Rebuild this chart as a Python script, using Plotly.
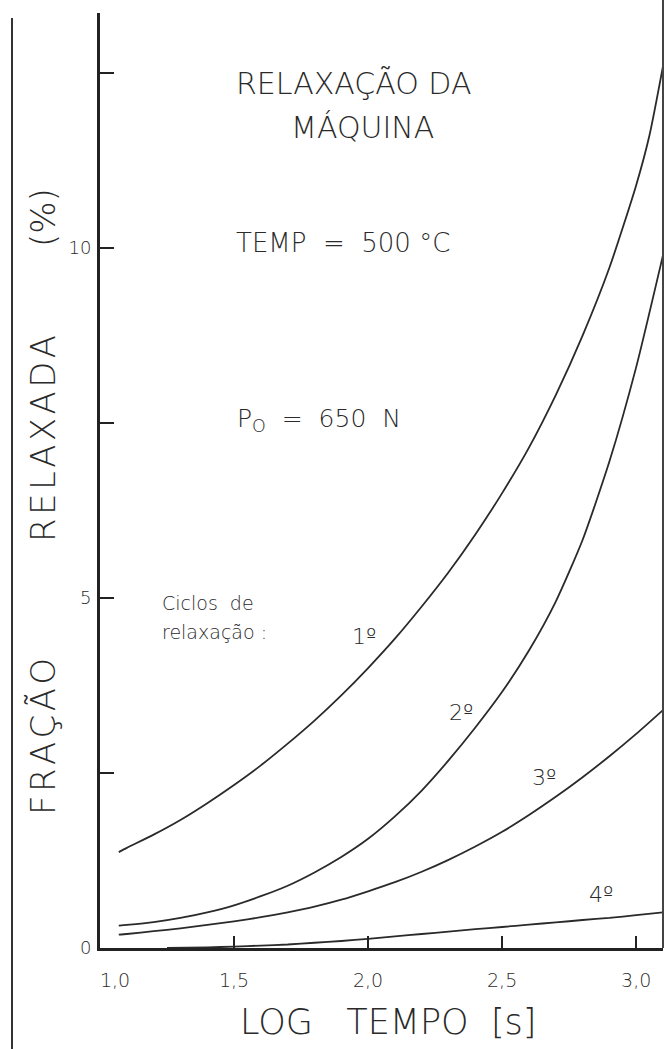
import plotly.graph_objects as go

# ---- data ----
log_t_1 = [1.07, 1.1, 1.2, 1.3, 1.4, 1.5, 1.6, 1.7, 1.8, 1.9, 2.0, 2.1, 2.2, 2.3, 2.4, 2.5,
           2.6, 2.7, 2.8, 2.9, 3.0, 3.05, 3.1]
frac_1 = [1.37, 1.43, 1.62, 1.83, 2.07, 2.33, 2.61, 2.92, 3.25, 3.61, 4.0, 4.42, 4.88, 5.37,
          5.91, 6.5, 7.15, 7.9, 8.75, 9.72, 10.9, 11.62, 12.6]

log_t_2 = [1.07, 1.1, 1.2, 1.3, 1.4, 1.5, 1.6, 1.7, 1.8, 1.9, 2.0, 2.1, 2.2, 2.3, 2.4, 2.5,
           2.6, 2.7, 2.8, 2.9, 3.0, 3.1]
frac_2 = [0.32, 0.33, 0.37, 0.43, 0.51, 0.61, 0.74, 0.89, 1.08, 1.30, 1.56, 1.88, 2.25, 2.68,
          3.15, 3.66, 4.25, 4.95, 5.83, 6.95, 8.3, 9.9]

log_t_3 = [1.07, 1.1, 1.2, 1.3, 1.4, 1.5, 1.6, 1.7, 1.8, 1.9, 2.0, 2.1, 2.2, 2.3, 2.4, 2.5,
           2.6, 2.7, 2.8, 2.9, 3.0, 3.1]
frac_3 = [0.19, 0.20, 0.24, 0.28, 0.33, 0.38, 0.44, 0.51, 0.59, 0.69, 0.81, 0.94, 1.09, 1.26,
          1.45, 1.66, 1.90, 2.16, 2.44, 2.74, 3.06, 3.40]

log_t_4 = [1.25, 1.4, 1.5, 1.6, 1.7, 1.8, 1.9, 2.0, 2.1, 2.2, 2.3, 2.4, 2.5, 2.6, 2.7, 2.8,
           2.9, 3.0, 3.1]
frac_4 = [0.0, 0.01, 0.02, 0.035, 0.05, 0.075, 0.10, 0.13, 0.165, 0.20, 0.235, 0.27, 0.30,
          0.335, 0.365, 0.40, 0.43, 0.47, 0.51]

x_tick_vals = [1.0, 1.5, 2.0, 2.5, 3.0]
x_tick_text = ["\u00a0\u00a0\u00a0\u00a0\u00a01,0", "1,5", "2,0", "2,5", "3,0"]
y_tick_vals = [0, 5, 10]
y_tick_text = ["0", "5", "10"]
y_minor_vals = [2.5, 7.5, 12.5]

cycle_labels = ["1º", "2º", "3º", "4º"]

INK = "#2a2a2a"
FONT = "DejaVu Sans"
W, H = 665, 1049
L, R, T, B = 100, 2, 13, 101
pw, ph = W - L - R, H - T - B


def px_x(p):
    return (p - L) / pw


def px_y(p):
    return (H - B - p) / ph


fig = go.Figure()
for xs, ys in [(log_t_1, frac_1), (log_t_2, frac_2), (log_t_3, frac_3), (log_t_4, frac_4)]:
    fig.add_trace(go.Scatter(x=xs, y=ys, mode="lines",
                             line=dict(color=INK, width=1.8, shape="spline", smoothing=0.6),
                             showlegend=False, hoverinfo="skip"))


def txt(text, x, y, size, xanchor="center"):
    fig.add_annotation(text=text, x=x, y=y, xref="x", yref="y", showarrow=False,
                       xanchor=xanchor, yanchor="middle",
                       font=dict(family=FONT, size=size, color=INK, weight=200))


txt("RELAXAÇÃO DA", 1.946, 12.36, 30)
txt("MÁQUINA", 1.98, 11.73, 30)
txt("TEMP  =  500 °C", 1.908, 10.07, 26)
txt("P<sub>O</sub>  =  650  N", 1.815, 7.54, 25)
txt("Ciclos  de", 1.224, 4.93, 19, xanchor="left")
txt("relaxação :", 1.224, 4.51, 19, xanchor="left")
label_pos = [(1.983, 4.45), (2.346, 3.37), (2.656, 2.43), (2.869, 0.77)]
for lab, (lx, ly) in zip(cycle_labels, label_pos):
    txt(lab, lx, ly, 22)

# y-axis title words (rotated), placed in pixel terms
HS = "\u200a"
for word, yp in [(HS.join("FRAÇÃO"), 737), (HS.join("RELAXADA"), 439), ("(%)", 218)]:
    fig.add_annotation(text=word, x=px_x(43), y=px_y(yp), xref="paper", yref="paper",
                       showarrow=False, textangle=-90, xanchor="center", yanchor="middle",
                       font=dict(family=FONT, size=34, color=INK, weight=200))

fig.add_annotation(text="LOG\u00a0\u00a0\u00a0TEMPO\u00a0\u00a0[s]", x=px_x(388), y=px_y(1022),
                   xref="paper", yref="paper", showarrow=False,
                   xanchor="center", yanchor="middle",
                   font=dict(family=FONT, size=35, color=INK, weight=200))

# frame lines (right border and outer left border)
fig.add_shape(type="line", xref="paper", yref="paper", x0=1, x1=1, y0=0, y1=px_y(0),
              line=dict(color="#444", width=2))
fig.add_shape(type="line", xref="paper", yref="paper", x0=px_x(12), x1=px_x(12),
              y0=px_y(1049), y1=px_y(18), line=dict(color="#333", width=2))

fig.update_layout(
    width=W, height=H, margin=dict(l=L, r=R, t=T, b=B),
    paper_bgcolor="white", plot_bgcolor="white",
    separators=",.",
    font=dict(family=FONT, color=INK),
)
fig.update_xaxes(range=[1.0, 3.1], showgrid=False, zeroline=False,
                 showline=True, linecolor="#222", linewidth=3,
                 ticks="inside", ticklen=12, tickwidth=1.5, tickcolor="#222",
                 tickvals=x_tick_vals, ticktext=x_tick_text,
                 tickfont=dict(family=FONT, size=19, color=INK, weight=200),
                 ticklabelstandoff=13)
fig.update_yaxes(range=[0, 13.36], showgrid=False, zeroline=False,
                 showline=True, linecolor="#222", linewidth=3,
                 ticks="inside", ticklen=14, tickwidth=1.5, tickcolor="#222",
                 tickvals=y_tick_vals, ticktext=y_tick_text,
                 minor=dict(tickmode="array", tickvals=y_minor_vals, ticks="inside",
                            ticklen=14, tickwidth=1.5, tickcolor="#222", showgrid=False),
                 tickfont=dict(family=FONT, size=18, color=INK, weight=200),
                 ticklabelstandoff=2)

fig.write_html("out.html", config={"displayModeBar": False},
               post_script="document.body.style.margin='0';document.body.style.overflow='hidden';")
